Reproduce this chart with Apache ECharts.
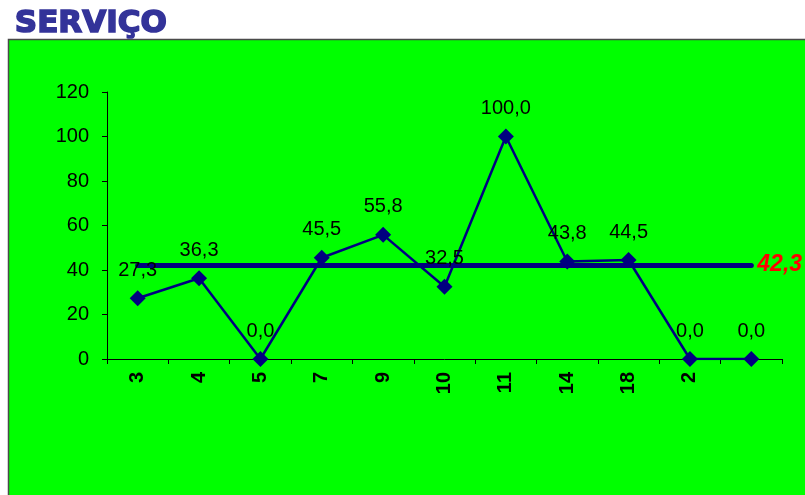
<!DOCTYPE html>
<html><head><meta charset="utf-8">
<script src="https://cdn.jsdelivr.net/npm/echarts@6/dist/echarts.min.js"></script>
<style>html,body{margin:0;padding:0;background:#fff}#c{width:805px;height:495px}</style>
</head><body><div id="c"></div>
<script>
const categories = ['3','4','5','7','9','10','11','14','18','2',''];
const values = [27.3, 36.3, 0.0, 45.5, 55.8, 32.5, 100.0, 43.8, 44.5, 0.0, 0.0];
const referenceValue = 42.3;
const yTicks = {min: 0, max: 120, interval: 20};
const fmt = v => v.toFixed(1).replace('.', ',');

const chart = echarts.init(document.getElementById('c'));
chart.setOption({
  animation: false,
  backgroundColor: '#ffffff',
  graphic: [
    {type: 'rect', z: -10, shape: {x: 8.5, y: 39.5, width: 820, height: 480},
     style: {fill: '#00ff00', stroke: '#4a4a4a', lineWidth: 1.5}},
    {type: 'text', left: 14, top: 8, z: 10,
     style: {text: 'SERVIÇO', fill: '#333399', font: 'bold 31px "DejaVu Sans"',
             stroke: '#333399', lineWidth: 1.6}}
  ],
  grid: {left: 107, top: 92, right: 23, bottom: 136},
  xAxis: {
    type: 'category', data: categories, boundaryGap: true,
    axisLine: {lineStyle: {color: '#000', width: 1}},
    axisTick: {show: true, length: 5, lineStyle: {color: '#000'}, interval: 0},
    axisLabel: {rotate: 90, interval: 0, color: '#000', fontWeight: 'bold', fontSize: 20,
                fontFamily: 'Liberation Sans', margin: 13}
  },
  yAxis: {
    type: 'value', min: yTicks.min, max: yTicks.max, interval: yTicks.interval,
    splitLine: {show: false},
    axisLine: {show: true, lineStyle: {color: '#000', width: 1}},
    axisTick: {show: true, length: 5, lineStyle: {color: '#000'}},
    axisLabel: {color: '#000', fontSize: 20, fontFamily: 'Liberation Sans', margin: 18}
  },
  series: [{
    type: 'line', data: values,
    lineStyle: {color: '#000080', width: 2.5},
    itemStyle: {color: '#000080'},
    symbol: 'diamond', symbolSize: 16,
    label: {show: true, position: 'top', distance: 10, color: '#000', fontSize: 20,
            fontFamily: 'Liberation Sans', formatter: p => fmt(p.value)},
    markLine: {
      symbol: 'none', silent: true,
      lineStyle: {color: '#000080', width: 5, type: 'solid', cap: 'round'},
      label: {show: true, position: 'end', formatter: fmt(referenceValue), color: '#ff0000',
              fontSize: 23, fontWeight: 'bold', fontStyle: 'italic', fontFamily: 'Liberation Sans', distance: 6},
      data: [[{coord: [0, referenceValue]}, {coord: [categories.length - 1, referenceValue]}]],
      z: 1
    }
  }]
});
</script></body></html>
